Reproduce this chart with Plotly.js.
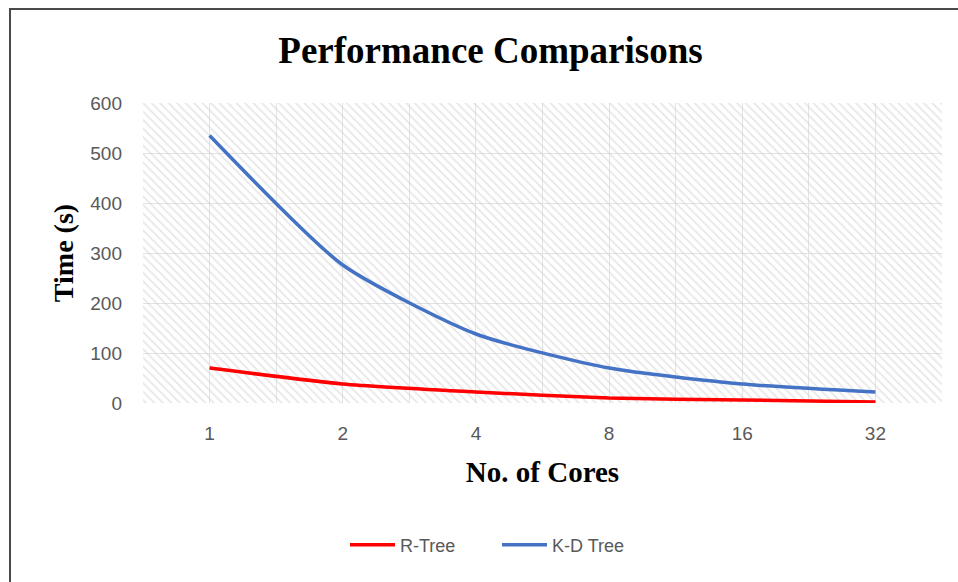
<!DOCTYPE html>
<html>
<head>
<meta charset="utf-8">
<script src="https://cdn.plot.ly/plotly-3.0.1.min.js"></script>
<style>
  html, body { margin: 0; padding: 0; background: #fff; overflow: hidden; }
  #frame { position: absolute; left: 9px; top: 8px; width: 960px; height: 590px; border: 2px solid #4a4a4a; box-sizing: border-box; }
  #chart { position: absolute; left: 0; top: 0; width: 958px; height: 582px; }
</style>
</head>
<body>
<div id="frame"></div>
<div id="chart"></div>
<script>
// Run time per core count for the two spatial index structures
const cores = ['1', '2', '4', '8', '16', '32'];
const rTree = [70, 38, 22, 10, 6, 2];
const kdTree = [535, 276, 138, 70, 38, 22];

const yMax = 600;
const xPos = cores.map((_, i) => i);
const xMin = -0.5, xMax = cores.length - 0.5;

const tickFont = { family: 'Liberation Sans, Arial, sans-serif', size: 19, color: '#595959' };
const serifBold = 'Liberation Serif, Times New Roman, serif';

const traces = [
  {
    // hatched plot-area background
    type: 'bar',
    x: [(xMin + xMax) / 2],
    y: [yMax],
    width: [xMax - xMin],
    marker: {
      color: 'rgba(0,0,0,0)',
      line: { width: 0 },
      pattern: { shape: '\\', fgcolor: '#cfcfcf', bgcolor: 'rgba(0,0,0,0)', size: 6, solidity: 0.3, fillmode: 'overlay' }
    },
    hoverinfo: 'skip',
    showlegend: false
  },
  {
    type: 'scatter', mode: 'lines', name: 'R-Tree',
    x: xPos, y: rTree,
    line: { color: '#ff0000', width: 3.5, shape: 'spline', smoothing: 0.6 }
  },
  {
    type: 'scatter', mode: 'lines', name: 'K-D Tree',
    x: xPos, y: kdTree,
    line: { color: '#4472c4', width: 3.5, shape: 'spline', smoothing: 0.6 }
  }
];

const layout = {
  width: 958, height: 582,
  margin: { l: 143, r: 16, t: 103, b: 179 },
  paper_bgcolor: 'rgba(0,0,0,0)',
  plot_bgcolor: '#ffffff',
  title: {
    text: '<b>Performance Comparisons</b>',
    font: { family: serifBold, size: 37, color: '#000' },
    x: 0.512, xanchor: 'center', yref: 'container', y: 1 - 50 / 582, yanchor: 'middle'
  },
  xaxis: {
    range: [xMin, xMax],
    tickmode: 'array', tickvals: xPos, ticktext: cores,
    tickfont: tickFont,
    showgrid: true, gridcolor: '#e3e3e3', gridwidth: 1,
    minor: { tickmode: 'linear', tick0: 0.5, dtick: 1, showgrid: true, gridcolor: '#e3e3e3', gridwidth: 1, ticklen: 0 },
    zeroline: false, showline: false, ticks: '',
    ticklabelstandoff: 17,
    title: { text: '<b>No. of Cores</b>', font: { family: serifBold, size: 29, color: '#000' }, standoff: 18 }
  },
  yaxis: {
    range: [0, yMax], dtick: 100,
    tickfont: tickFont,
    showgrid: true, gridcolor: '#e3e3e3', gridwidth: 1,
    zeroline: false, showline: false, ticks: '',
    ticklabelstandoff: 20,
    title: { text: '<b>Time (s)</b>', font: { family: serifBold, size: 28, color: '#000' }, standoff: 8 }
  },
  barmode: 'overlay',
  legend: {
    orientation: 'h', xref: 'container', x: 345 / 958, xanchor: 'left',
    yref: 'container', y: 1 - 545 / 582, yanchor: 'middle',
    entrywidth: 92, entrywidthmode: 'pixels', itemwidth: 45,
    font: { family: 'Liberation Sans, Arial, sans-serif', size: 18, color: '#595959' },
    traceorder: 'normal'
  },
  showlegend: true
};

Plotly.newPlot('chart', traces, layout, { displayModeBar: false, staticPlot: true });
</script>
</body>
</html>
